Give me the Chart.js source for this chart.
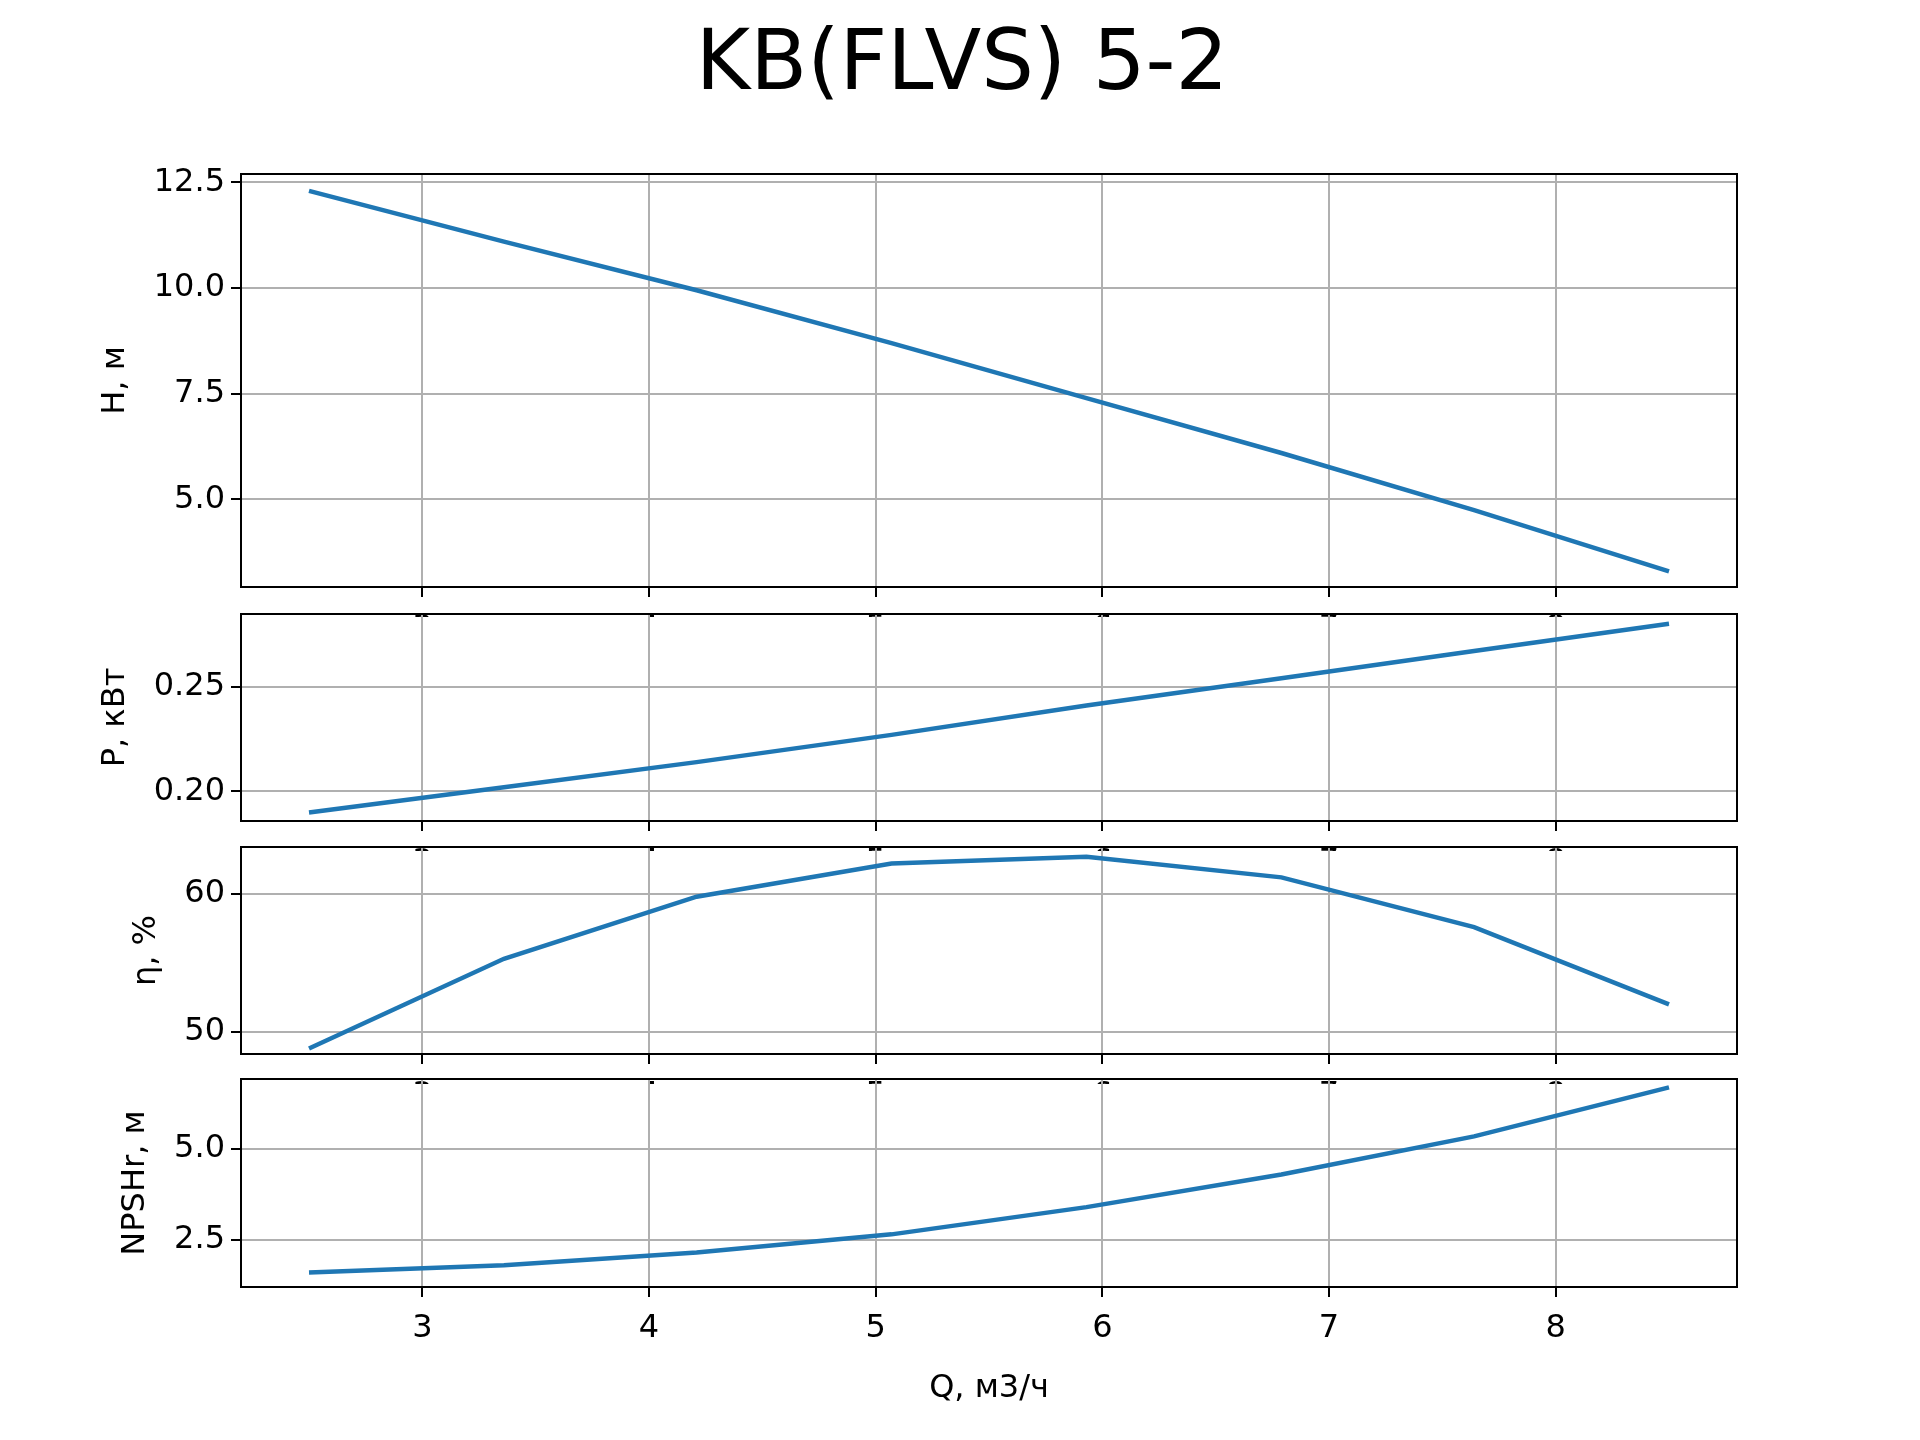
<!DOCTYPE html>
<html><head><meta charset="utf-8">
<script src="https://cdn.jsdelivr.net/npm/chart.js@4"></script>
<style>
body{margin:0;width:1920px;height:1440px;background:#fff;position:relative;font-family:"DejaVu Sans";}
canvas{position:absolute;left:0;}
#title{position:absolute;top:12px;width:1920px;text-align:center;font-size:83px;left:2px;}
</style></head><body>
<div id="title">KB(FLVS) 5-2</div>
<canvas id="c1"></canvas><canvas id="c2"></canvas><canvas id="c3"></canvas><canvas id="c4"></canvas>
<script>
const flow = [2.5, 3.36, 4.21, 5.07, 5.93, 6.79, 7.64, 8.5];
const head = [12.3, 11.1, 9.95, 8.7, 7.4, 6.1, 4.75, 3.3];
const power = [0.19, 0.202, 0.214, 0.227, 0.241, 0.254, 0.267, 0.28];
const eff = [48.8, 55.3, 59.8, 62.2, 62.7, 61.2, 57.6, 52.0];
const npsh = [1.6, 1.8, 2.15, 2.65, 3.4, 4.3, 5.35, 6.7];
const xTicks = [3, 4, 5, 6, 7, 8];

const panels = [
    {id:'c1', top:174, h:413, data:head, label:'H, м', min:2.93, max:12.7, ticks:[5, 7.5, 10, 12.5], fmt:v=>v.toFixed(1)},
    {id:'c2', top:614, h:207, data:power, label:'P, кВт', min:0.1859, max:0.2847, ticks:[0.2, 0.25], fmt:v=>v.toFixed(2)},
    {id:'c3', top:847, h:207, data:eff, label:'η, %', min:48.4, max:63.4, ticks:[50, 60], fmt:v=>String(v)},
    {id:'c4', top:1079, h:208, data:npsh, label:'NPSHr, м', min:1.2, max:6.93, ticks:[2.5, 5], fmt:v=>v.toFixed(1), last:true}
];

Chart.defaults.font.family = 'DejaVu Sans';
Chart.defaults.color = '#000';
const PAD = 30;

for (const p of panels){
    const xh = p.last ? 125 : 30;
    const cv = document.getElementById(p.id);
    cv.width = 1920; cv.height = PAD + p.h + xh;
    cv.style.top = (p.top - PAD) + 'px';
    new Chart(cv, {
        type: 'line',
        data: {datasets: [{data: flow.map((x, i) => ({x: x, y: p.data[i]})), borderColor: '#1f77b4', borderWidth: 4.5, pointRadius: 0, tension: 0}]},
        options: {
            responsive: false, animation: false, devicePixelRatio: 1,
            layout: {padding: {left: 0, right: 183, top: PAD, bottom: 0}},
            plugins: {legend: {display: false}, tooltip: {enabled: false}},
            scales: {
                x: {
                    type: 'linear', min: 2.2, max: 8.8,
                    afterBuildTicks: a => { a.ticks = xTicks.map(v => ({value: v})); },
                    afterFit: a => { a.height = xh; },
                    grid: {color: '#b0b0b0', lineWidth: 2, tickColor: '#000', tickLength: 10},
                    border: {color: '#000', width: 2},
                    ticks: {display: p.last, font: {size: 32}, padding: 12, maxRotation: 0},
                    title: {display: p.last, text: 'Q, м3/ч', font: {size: 32}, padding: {top: 4}}
                },
                y: {
                    min: p.min, max: p.max,
                    afterBuildTicks: a => { a.ticks = p.ticks.map(v => ({value: v})); },
                    afterFit: a => { a.width = 241; },
                    grid: {color: '#b0b0b0', lineWidth: 2, tickColor: '#000', tickLength: 10},
                    border: {color: '#000', width: 2},
                    ticks: {font: {size: 32}, padding: 6, callback: v => p.fmt(v)}
                }
            }
        },
        plugins: [{id: 'frame', afterDraw(c){
            const a = c.chartArea, g = c.ctx;
            g.save(); g.strokeStyle = '#000'; g.lineWidth = 2;
            g.strokeRect(a.left, a.top, a.right - a.left, a.bottom - a.top);
            g.font = '32px "DejaVu Sans"';
            const w = Math.max(...p.ticks.map(v => g.measureText(p.fmt(v)).width));
            g.fillStyle = '#000';
            g.translate(a.left - 16 - w - 22, (a.top + a.bottom) / 2);
            g.rotate(-Math.PI / 2);
            g.textAlign = 'center'; g.textBaseline = 'bottom';
            g.fillText(p.label, 0, 0);
            g.restore();
        }}]
    });
}
</script>
</body></html>
